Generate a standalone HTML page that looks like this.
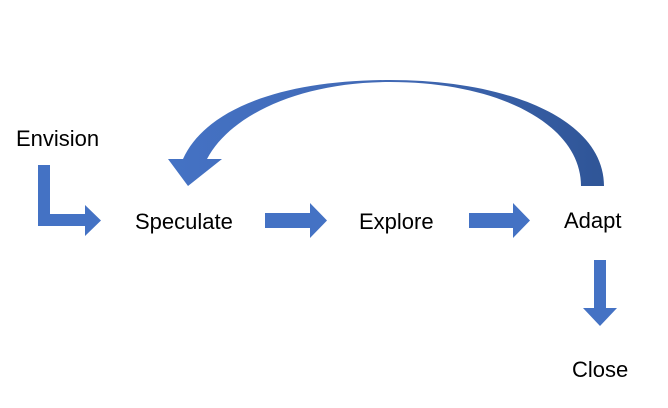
<!DOCTYPE html>
<html><head><style>
html,body{margin:0;padding:0;background:#fff;}
body{width:668px;height:408px;position:relative;overflow:hidden;font-family:"Liberation Sans",sans-serif;}
.t{position:absolute;font-size:22px;line-height:25px;color:#000;}
</style></head><body>
<svg width="668" height="408" style="position:absolute;left:0;top:0">
<defs>
<linearGradient id="g" x1="0" x2="1" y1="0" y2="0">
<stop offset="0" stop-color="#4472c4"/><stop offset="0.5" stop-color="#4169b5"/><stop offset="1" stop-color="#2f5597"/>
</linearGradient>
</defs>
<path d="M38,165 L50,165 L50,214 L85,214 L85,205 L101,220.5 L85,236 L85,226 L38,226 Z" fill="#4472c4"/>
<path d="M265,213 L310,213 L310,203 L327,220.5 L310,238 L310,228 L265,228 Z" fill="#4472c4"/>
<path d="M469,213 L513,213 L513,203 L530,220.5 L513,238 L513,228 L469,228 Z" fill="#4472c4"/>
<path d="M594,260 L606,260 L606,308 L617,308 L600,326 L583,308 L594,308 Z" fill="#4472c4"/>
<path d="M604,186 C604,120 510,80 390,80 C280,80 205,110 183,159 L168,159 L188,186 L222,159 L207,159 C230,115 300,82 390,82 C500,82 581,125 581,186 Z" fill="url(#g)"/>
</svg>
<div class="t" style="left:16px;top:126px">Envision</div>
<div class="t" style="left:135px;top:209px">Speculate</div>
<div class="t" style="left:359px;top:209px">Explore</div>
<div class="t" style="left:564px;top:208px">Adapt</div>
<div class="t" style="left:572px;top:357px">Close</div>
</body></html>
